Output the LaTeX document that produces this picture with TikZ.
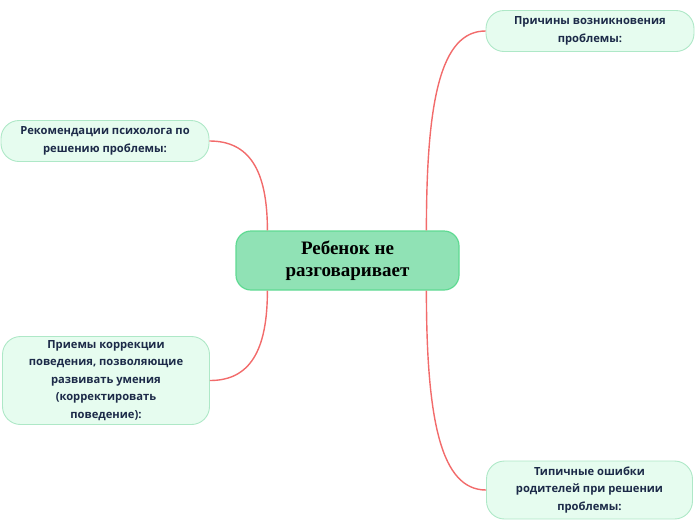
\documentclass[tikz,border=0pt]{standalone}
\usepackage{fontspec}
\setmainfont{Open Sans}
\newfontfamily\centerfont{Liberation Serif}
\definecolor{linkred}{HTML}{F26B6B}
\definecolor{mainfill}{HTML}{90E2B5}
\definecolor{maindraw}{HTML}{5FDA92}
\definecolor{subfill}{HTML}{E6FCEF}
\definecolor{subdraw}{HTML}{AEE8C7}
\definecolor{subtext}{HTML}{1C2A48}
\tikzset{
  mainbox/.style={draw=maindraw, fill=mainfill, line width=1.2pt, rounded corners=15pt,
    minimum width=223pt, minimum height=59pt, align=center, inner sep=0pt,
    font=\centerfont\bfseries\fontsize{19}{22}\selectfont, text=black},
  subbox/.style={draw=subdraw, fill=subfill, line width=0.9pt, rounded corners=18pt,
    align=center, inner sep=0pt, font=\bfseries\fontsize{11.2}{17.5}\selectfont, text=subtext},
  link/.style={draw=linkred, line width=1.4pt}
}
\begin{document}
\begin{tikzpicture}[x=1pt,y=-1pt]
\useasboundingbox (0,0) rectangle (696,520);
\node[mainbox] (c) at (347.5,260.5) {Ребенок не\\разговаривает};
\node[subbox, minimum width=208pt, minimum height=41pt] (tr) at (590,31) {Причины возникновения\\проблемы:};
\node[subbox, minimum width=208pt, minimum height=41pt] (tl) at (105,141) {Рекомендации психолога по\\решению проблемы:};
\node[subbox, minimum width=207pt, minimum height=88pt] (bl) at (106,380.5) {Приемы коррекции\\поведения, позволяющие\\развивать умения\\(корректировать\\поведение):};
\node[subbox, minimum width=206pt, minimum height=58pt] (br) at (589.5,490) {Типичные ошибки\\родителей при решении\\проблемы:};
\draw[link] ([xshift=191pt]c.north west) .. controls +(0,-130) and +(-45,0) .. (tr.west);
\draw[link] ([xshift=32pt]c.north west) .. controls +(0,-60) and +(40,0) .. (tl.east);
\draw[link] ([xshift=32pt]c.south west) .. controls +(0,60) and +(40,0) .. (bl.east);
\draw[link] ([xshift=191pt]c.south west) .. controls +(0,130) and +(-45,0) .. (br.west);
\end{tikzpicture}
\end{document}
